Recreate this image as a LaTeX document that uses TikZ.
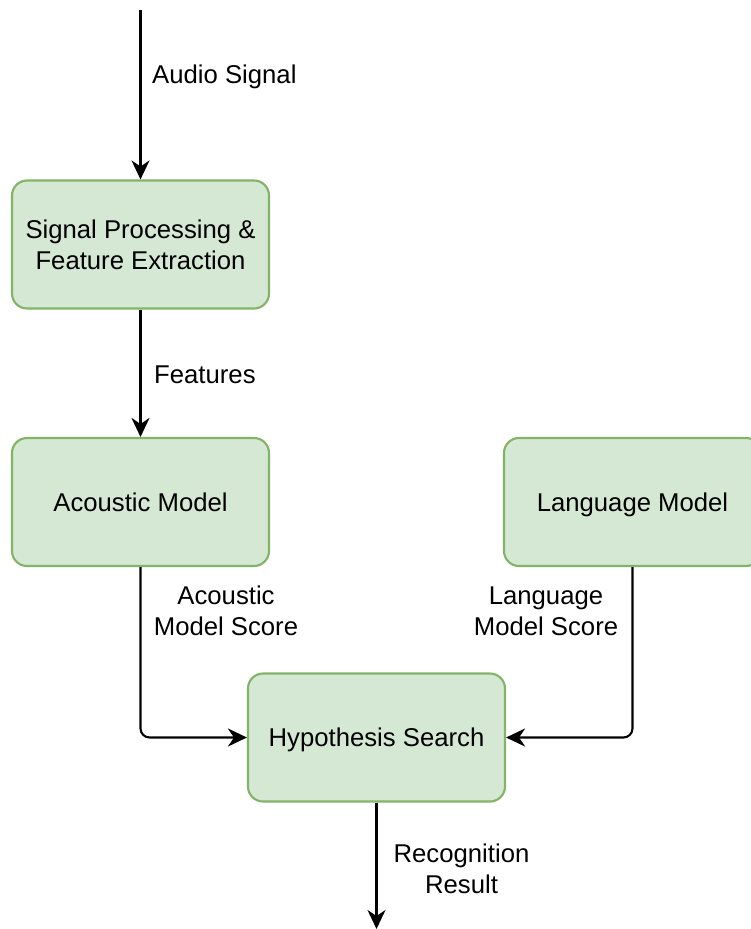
\documentclass[tikz,border=0pt]{standalone}
\usepackage{fontspec}
\setmainfont{Liberation Sans}
\usetikzlibrary{arrows.meta}
\begin{document}
\begin{tikzpicture}[x=1pt,y=-1pt,
  block/.style={draw=boxline, fill=boxfill, line width=2.1pt, rounded corners=15pt,
    minimum width=257pt, minimum height=128pt, align=center, inner sep=0pt,
    font=\fontsize{25.7}{30.8}\selectfont},
  lbl/.style={align=center, inner sep=0pt, font=\fontsize{25.7}{30.8}\selectfont},
  oneline/.style={text height=18.4pt, text depth=0pt},
  flow/.style={line width=2.1pt, -{Stealth[length=19pt, width=18pt, inset=6pt]}}]
\definecolor{boxfill}{HTML}{D5E8D4}
\definecolor{boxline}{HTML}{82B366}
\clip (0,0) rectangle (751,929);
\useasboundingbox (0,0) rectangle (751,929);

% processing blocks
\node[block] (sp) at (140.5,244.5) {Signal Processing \&\\Feature Extraction};
\node[block, oneline] (am) at (140.5,502) {Acoustic Model};
\node[block, oneline] (lm) at (632.5,502) {Language Model};
\node[block, oneline] (hs) at (376.5,737.5) {Hypothesis Search};

% free ends of the input and output arrows
\coordinate (in) at (140.5,10);
\coordinate (out) at (376.5,929);

% connectors
\draw[flow] (in) -- (sp.north);
\draw[flow] (sp.south) -- (am.north);
\draw[flow, rounded corners=9pt] (am.south) |- (hs.west);
\draw[flow, rounded corners=9pt] (lm.south) |- (hs.east);
\draw[flow] (hs.south) -- (out);

% connector labels
\node[lbl, oneline, anchor=west] (l1) at (152,74.5) {Audio Signal};
\node[lbl, oneline, anchor=west] (l2) at (154,374) {Features};
\node[lbl] (l3) at (226,611) {Acoustic\\Model Score};
\node[lbl] (l4) at (546,611) {Language\\Model Score};
\node[lbl] (l5) at (461.5,869) {Recognition\\Result};
\end{tikzpicture}
\end{document}
